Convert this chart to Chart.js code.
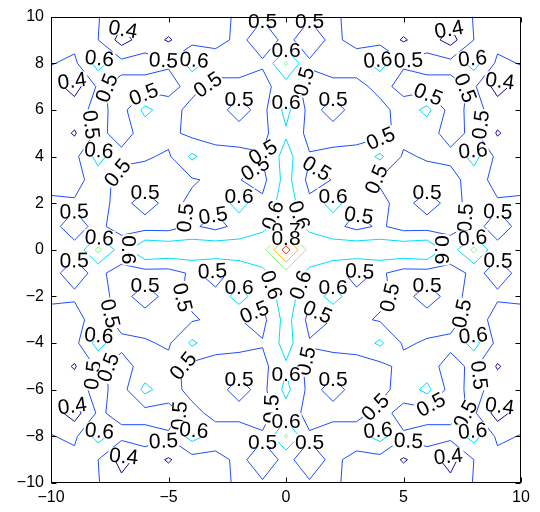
<!DOCTYPE html>
<html>
<head>
<meta charset="utf-8">
<script src="https://cdn.jsdelivr.net/npm/chart.js@4/dist/chart.umd.min.js"></script>
<style>
  html, body { margin: 0; padding: 0; background: #ffffff; }
  #wrap { width: 540px; height: 512px; }
</style>
</head>
<body>
<div id="wrap"><canvas id="chart" width="540" height="512"></canvas></div>
<script>
// Sample positions of the surface
const xValues = [-10, -9, -8, -7, -6, -5, -4, -3, -2, -1, 0, 1, 2, 3, 4, 5, 6, 7, 8, 9, 10];
const yValues = [-10, -9, -8, -7, -6, -5, -4, -3, -2, -1, 0, 1, 2, 3, 4, 5, 6, 7, 8, 9, 10];

// Surface values for |x| = 0..10 (columns) and |y| = 0..10 (rows);
// the surface is mirror symmetric about both axes.
const zQuadrant = [
  [0.95,  0.66,   0.66,  0.68, 0.67,  0.68,  0.70, 0.546, 0.727, 0.514, 0.52 ],
  [0.66,  0.58,   0.53,  0.47, 0.515, 0.46,  0.46, 0.472, 0.515, 0.48,  0.513],
  [0.66,  0.52,   0.65,  0.52, 0.52,  0.47,  0.54, 0.47,  0.53,  0.509, 0.52 ],
  [0.64,  0.47,   0.503, 0.52, 0.49,  0.46,  0.46, 0.47,  0.54,  0.47,  0.46 ],
  [0.64,  0.5075, 0.52,  0.53, 0.62,  0.487, 0.51, 0.52,  0.64,  0.47,  0.46 ],
  [0.587, 0.47,   0.47,  0.47, 0.47,  0.53,  0.53, 0.47,  0.52,  0.39,  0.46 ],
  [0.63,  0.47,   0.53,  0.47, 0.47,  0.54,  0.63, 0.46,  0.53,  0.46,  0.46 ],
  [0.55,  0.47,   0.47,  0.47, 0.53,  0.47,  0.46, 0.47,  0.515, 0.355, 0.45 ],
  [0.715, 0.51,   0.55,  0.55, 0.64,  0.51,  0.54, 0.53,  0.64,  0.48,  0.505],
  [0.52,  0.46,   0.52,  0.47, 0.46,  0.39,  0.45, 0.36,  0.501, 0.53,  0.52 ],
  [0.55,  0.507,  0.52,  0.46, 0.46,  0.46,  0.46, 0.43,  0.505, 0.53,  0.53 ]
];

const contourLevels = [0.4, 0.5, 0.6, 0.7, 0.8, 0.9];
const levelColors = ['#0c0c9a', '#1f4dff', '#00dcff', '#80ff80', '#ffbf00', '#ff2a00'];
const xTickValues = [-10, -5, 0, 5, 10];
const yTickValues = [-10, -8, -6, -4, -2, 0, 2, 4, 6, 8, 10];

const zGrid = yValues.map(y => xValues.map(x => zQuadrant[Math.abs(y)][Math.abs(x)]));

// Marching squares: returns polylines (arrays of {x, y}) for one level
function traceLevel(level) {
  const nx = xValues.length, ny = yValues.length;
  const pts = {};
  const segs = [];
  const edge = (key, x0, y0, z0, x1, y1, z1) => {
    if (!pts[key]) {
      const t = (level - z0) / (z1 - z0);
      pts[key] = { x: x0 + t * (x1 - x0), y: y0 + t * (y1 - y0) };
    }
    return key;
  };
  for (let j = 0; j < ny - 1; j++) {
    for (let i = 0; i < nx - 1; i++) {
      const x0 = xValues[i], x1 = xValues[i + 1], y0 = yValues[j], y1 = yValues[j + 1];
      const a = zGrid[j][i], b = zGrid[j][i + 1], c = zGrid[j + 1][i + 1], d = zGrid[j + 1][i];
      const code = (a >= level ? 1 : 0) | (b >= level ? 2 : 0) | (c >= level ? 4 : 0) | (d >= level ? 8 : 0);
      if (code === 0 || code === 15) continue;
      const B = () => edge('h' + i + ',' + j, x0, y0, a, x1, y0, b);
      const R = () => edge('v' + (i + 1) + ',' + j, x1, y0, b, x1, y1, c);
      const T = () => edge('h' + i + ',' + (j + 1), x0, y1, d, x1, y1, c);
      const L = () => edge('v' + i + ',' + j, x0, y0, a, x0, y1, d);
      const high = (a + b + c + d) / 4 >= level;
      switch (code) {
        case 1: case 14: segs.push([L(), B()]); break;
        case 2: case 13: segs.push([B(), R()]); break;
        case 3: case 12: segs.push([L(), R()]); break;
        case 4: case 11: segs.push([R(), T()]); break;
        case 6: case 9: segs.push([B(), T()]); break;
        case 7: case 8: segs.push([L(), T()]); break;
        case 5:
          if (high) segs.push([B(), R()], [L(), T()]);
          else segs.push([L(), B()], [R(), T()]);
          break;
        case 10:
          if (high) segs.push([L(), B()], [R(), T()]);
          else segs.push([B(), R()], [L(), T()]);
          break;
      }
    }
  }
  const byKey = {};
  segs.forEach((s, n) => s.forEach(k => (byKey[k] = byKey[k] || []).push(n)));
  const used = new Array(segs.length).fill(false);
  const walk = (startSeg, startKey) => {
    const keys = [startKey];
    let seg = startSeg, key = startKey;
    while (seg !== undefined && !used[seg]) {
      used[seg] = true;
      const next = segs[seg][0] === key ? segs[seg][1] : segs[seg][0];
      keys.push(next);
      key = next;
      seg = byKey[key].find(n => !used[n]);
    }
    return keys;
  };
  const lines = [];
  segs.forEach((s, n) => {
    if (used[n]) return;
    for (const k of s) {
      if (byKey[k].length === 1) { lines.push(walk(n, k)); break; }
    }
  });
  segs.forEach((s, n) => { if (!used[n]) lines.push(walk(n, s[0])); });
  return lines.map(keys => keys.map(k => pts[k]));
}

const contourSets = contourLevels.map(traceLevel);

const labelFontSize = 21;
const labelSpacing = 150;
const minLabelLine = 38;
const fontFamily = '"Liberation Sans", Arial, Helvetica, sans-serif';

// Inline contour labels: white gap on the line plus the level value
const contourLabelPlugin = {
  id: 'contourLabels',
  afterDatasetsDraw(chart) {
    const { ctx, scales: { x, y } } = chart;
    ctx.save();
    ctx.font = labelFontSize + 'px ' + fontFamily;
    ctx.textAlign = 'center';
    ctx.textBaseline = 'alphabetic';
    contourSets.forEach((lines, k) => {
      const text = String(contourLevels[k]);
      const w = ctx.measureText(text).width;
      lines.forEach(line => {
        const px = line.map(p => ({ x: x.getPixelForValue(p.x), y: y.getPixelForValue(p.y) }));
        const cum = [0];
        for (let i = 1; i < px.length; i++) {
          cum.push(cum[i - 1] + Math.hypot(px[i].x - px[i - 1].x, px[i].y - px[i - 1].y));
        }
        const total = cum[cum.length - 1];
        if (total < minLabelLine) return;
        const at = s => {
          s = Math.max(0, Math.min(total, s));
          let i = 1;
          while (i < cum.length - 1 && cum[i] < s) i++;
          const seg = cum[i] - cum[i - 1] || 1;
          const t = (s - cum[i - 1]) / seg;
          return { x: px[i - 1].x + t * (px[i].x - px[i - 1].x), y: px[i - 1].y + t * (px[i].y - px[i - 1].y) };
        };
        const n = Math.max(1, Math.round(total / labelSpacing));
        for (let m = 0; m < n; m++) {
          const s = total * (m + 0.5) / n;
          const p = at(s), p0 = at(s - w / 2), p1 = at(s + w / 2);
          let ang = Math.atan2(p1.y - p0.y, p1.x - p0.x);
          if (ang > Math.PI / 2) ang -= Math.PI;
          if (ang < -Math.PI / 2) ang += Math.PI;
          ctx.save();
          ctx.translate(p.x, p.y);
          ctx.rotate(ang);
          ctx.fillStyle = '#ffffff';
          ctx.fillRect(-w / 2 - 1, -labelFontSize * 0.34, w + 2, labelFontSize * 0.68);
          ctx.fillStyle = '#000000';
          ctx.fillText(text, 0, labelFontSize * 0.36);
          ctx.restore();
        }
      });
    });
    ctx.restore();
  }
};

// Axes box with inward tick marks on all four sides
const framePlugin = {
  id: 'frame',
  afterDraw(chart) {
    const { ctx, chartArea: a, scales: { x, y } } = chart;
    ctx.save();
    ctx.strokeStyle = '#000000';
    ctx.lineWidth = 1;
    const L = Math.round(a.left) + 0.5, R = Math.round(a.right) - 0.5;
    const T = Math.round(a.top) + 0.5, Bt = Math.round(a.bottom) - 0.5;
    ctx.strokeRect(L, T, R - L, Bt - T);
    const len = 5;
    ctx.beginPath();
    xTickValues.forEach(v => {
      const px = Math.round(x.getPixelForValue(v)) + 0.5;
      ctx.moveTo(px, Bt); ctx.lineTo(px, Bt - len);
      ctx.moveTo(px, T); ctx.lineTo(px, T + len);
    });
    yTickValues.forEach(v => {
      const py = Math.round(y.getPixelForValue(v)) + 0.5;
      ctx.moveTo(L, py); ctx.lineTo(L + len, py);
      ctx.moveTo(R, py); ctx.lineTo(R - len, py);
    });
    ctx.stroke();
    ctx.restore();
  }
};

const tickText = v => (v < 0 ? '\u2212' + Math.abs(v) : String(v));

new Chart(document.getElementById('chart'), {
  type: 'scatter',
  data: {
    datasets: contourSets.map((lines, k) => ({
      label: String(contourLevels[k]),
      data: lines.flatMap(line => line.concat([{ x: NaN, y: NaN }])),
      showLine: true,
      spanGaps: false,
      borderColor: levelColors[k],
      backgroundColor: levelColors[k],
      borderWidth: 1,
      pointRadius: 0,
      pointHoverRadius: 0,
      tension: 0,
      fill: false
    }))
  },
  options: {
    responsive: false,
    animation: false,
    events: [],
    layout: { padding: { left: 0, right: 19, top: 13, bottom: 0 } },
    plugins: { legend: { display: false }, tooltip: { enabled: false } },
    scales: {
      x: {
        type: 'linear', min: -10, max: 10,
        grid: { display: false, drawTicks: false },
        border: { display: false },
        afterFit: s => { s.height = 29; },
        afterBuildTicks: s => { s.ticks = xTickValues.map(v => ({ value: v })); },
        ticks: { callback: tickText, color: '#000000', padding: 5, maxRotation: 0, autoSkip: false,
                 font: { family: fontFamily, size: 16 } }
      },
      y: {
        type: 'linear', min: -10, max: 10,
        grid: { display: false, drawTicks: false },
        border: { display: false },
        afterFit: s => { s.width = 51; },
        afterBuildTicks: s => { s.ticks = yTickValues.map(v => ({ value: v })); },
        ticks: { callback: tickText, color: '#000000', padding: 7, autoSkip: false,
                 font: { family: fontFamily, size: 16 } }
      }
    }
  },
  plugins: [contourLabelPlugin, framePlugin]
});
</script>
</body>
</html>
